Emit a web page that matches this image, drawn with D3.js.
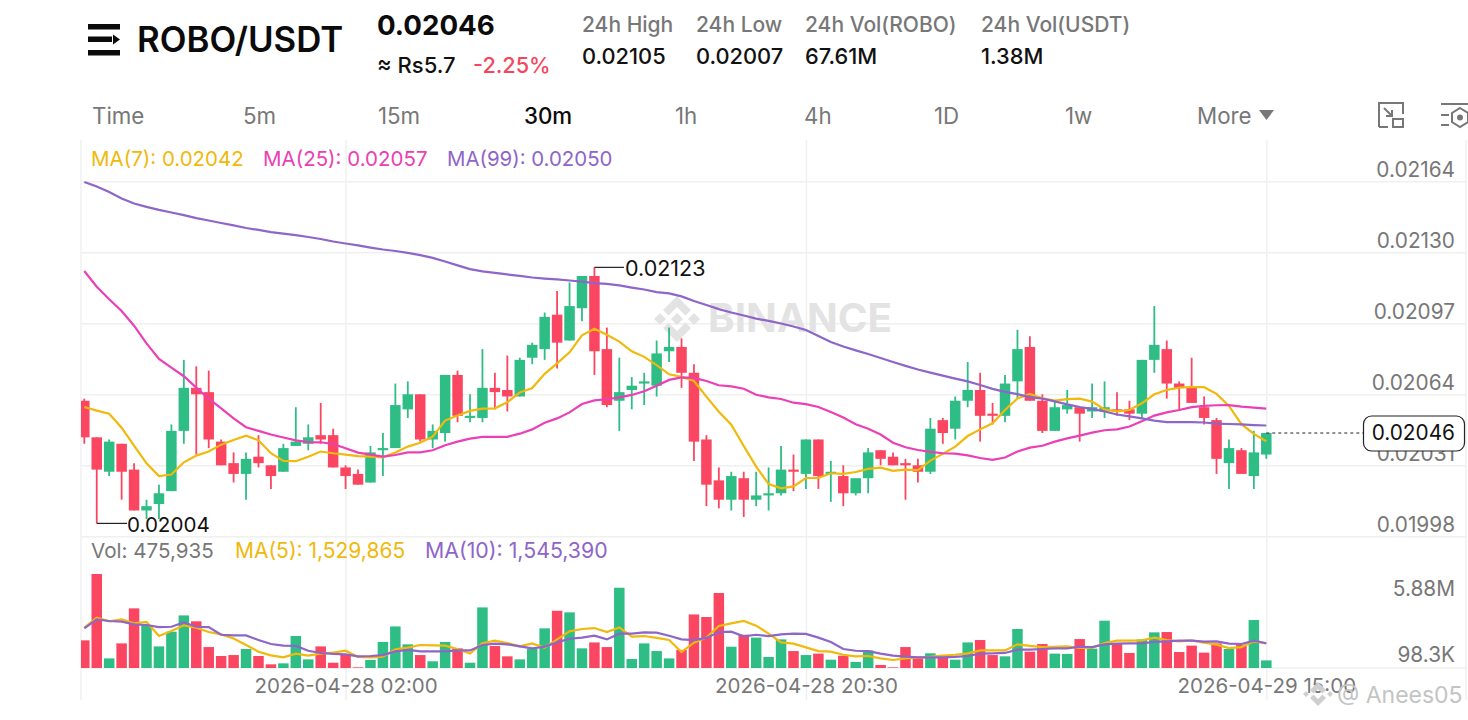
<!DOCTYPE html>
<html>
<head>
<meta charset="utf-8">
<script src="https://cdn.jsdelivr.net/npm/d3@7"></script>
<style>
body { margin: 0; background: #fff; }
text { font-family: Inter, "Noto Sans", sans-serif; }
</style>
</head>
<body>
<svg id="chart"></svg>
<script>
// prices are in units of 0.00001 USDT
var opens = [2061,2044,2028,2041,2029,2010,2013,2019,2047,2067,2065,2042,2032,2027,2035,2031,2028,2040,2041,2045,2045,2030,2027,2023,2038,2039,2057,2064,2043,2046,2073,2053,2053,2067,2066,2063,2081,2085,2101,2089,2104,2119,2085,2061,2066,2069,2068,2084,2086,2074,2043,2024,2015,2025,2015,2017,2018,2029,2027,2043,2027,2026,2018,2025,2038,2035,2032,2031,2028,2052,2048,2061,2066,2055,2054,2070,2086,2061,2047,2057,2058,2056,2056,2057,2057,2055,2080,2085,2069,2067,2058,2052,2032,2038,2026,2036];
var highs = [2062,2044,2043,2041,2032,2015,2022,2050,2080,2077,2075,2043,2037,2037,2045,2031,2041,2058,2050,2060,2048,2031,2029,2040,2046,2069,2070,2064,2050,2073,2075,2064,2085,2074,2082,2081,2088,2102,2112,2116,2119,2123,2095,2081,2072,2074,2089,2095,2090,2078,2045,2030,2028,2028,2028,2030,2040,2036,2043,2043,2033,2031,2025,2039,2038,2037,2034,2034,2053,2053,2063,2079,2074,2060,2073,2094,2091,2064,2061,2066,2058,2069,2070,2065,2061,2080,2105,2089,2070,2081,2063,2053,2043,2039,2047,2046];
var lows = [2041,2004,2026,2015,2010,2006,2006,2019,2041,2036,2039,2031,2023,2015,2030,2020,2028,2040,2038,2041,2030,2020,2022,2023,2026,2039,2053,2042,2039,2042,2051,2051,2051,2057,2056,2063,2078,2080,2076,2089,2098,2073,2058,2047,2057,2059,2063,2079,2067,2033,2012,2011,2010,2007,2012,2010,2017,2019,2020,2020,2014,2012,2017,2018,2031,2031,2015,2023,2027,2041,2043,2058,2042,2050,2051,2062,2061,2046,2047,2055,2042,2053,2053,2054,2052,2053,2074,2062,2057,2060,2050,2027,2020,2027,2020,2034];
var closes = [2044,2029,2042,2028,2010,2012,2018,2047,2067,2064,2043,2031,2027,2034,2032,2026,2039,2042,2044,2043,2030,2026,2022,2037,2039,2059,2064,2043,2047,2073,2054,2054,2067,2065,2063,2080,2087,2100,2088,2105,2119,2084,2059,2065,2068,2070,2083,2086,2074,2042,2022,2015,2026,2015,2017,2018,2029,2028,2043,2026,2028,2018,2025,2037,2034,2031,2031,2028,2048,2046,2061,2066,2054,2054,2069,2085,2061,2047,2058,2059,2055,2058,2058,2056,2055,2080,2087,2069,2067,2060,2053,2034,2039,2027,2037,2046];

var ma7 = [2058.1,2056.4,2055.0,2048.5,2040.1,2031.9,2026.0,2026.7,2032.4,2035.5,2037.4,2040.6,2042.8,2044.8,2042.6,2036.6,2033.0,2032.9,2035.0,2037.4,2036.6,2036.0,2035.3,2035.0,2034.7,2036.9,2039.7,2041.5,2044.3,2051.8,2054.1,2056.3,2057.3,2057.5,2060.3,2064.9,2066.9,2073.5,2078.4,2083.5,2091.4,2094.5,2091.7,2088.5,2084.0,2081.4,2077.6,2073.3,2072.1,2070.2,2062.9,2055.9,2049.9,2040.0,2030.4,2022.3,2020.3,2021.2,2025.1,2025.1,2027.3,2027.0,2027.9,2029.3,2029.9,2028.4,2029.0,2028.8,2033.2,2036.3,2039.7,2044.6,2047.7,2050.5,2056.7,2062.1,2064.2,2062.1,2061.1,2061.8,2062.0,2060.6,2057.0,2056.1,2056.7,2059.8,2064.0,2066.0,2067.1,2067.4,2067.3,2064.2,2058.6,2050.1,2045.6,2042.2];
var ma25 = [2121.3,2114.0,2108.2,2102.7,2095.9,2087.7,2080.4,2076.4,2072.4,2067.1,2062.0,2057.5,2052.8,2048.7,2047.0,2045.3,2043.9,2042.6,2041.8,2041.7,2040.9,2038.9,2036.9,2036.0,2035.0,2035.8,2037.0,2037.0,2038.0,2040.3,2042.0,2043.4,2044.2,2044.2,2044.2,2045.7,2047.7,2050.8,2052.8,2055.6,2059.5,2061.2,2061.7,2062.6,2063.7,2065.4,2068.0,2070.7,2071.9,2071.6,2070.2,2068.2,2067.7,2066.6,2063.8,2062.6,2061.8,2060.1,2059.4,2058.1,2055.8,2053.2,2050.1,2048.0,2045.3,2041.5,2039.4,2038.1,2037.2,2036.6,2036.4,2035.6,2034.4,2033.5,2034.6,2037.4,2039.2,2040.1,2042.0,2043.5,2044.8,2046.2,2047.3,2047.7,2049.0,2051.5,2054.1,2055.6,2056.7,2058.0,2058.6,2058.9,2059.0,2058.3,2057.8,2057.3];
var ma99 = [2162.7,2160.6,2158.0,2155.0,2152.7,2151.1,2149.7,2148.5,2147.3,2145.9,2144.8,2143.6,2142.5,2141.3,2140.4,2139.4,2138.7,2138.0,2137.1,2136.2,2135.0,2134.1,2133.2,2132.2,2131.3,2130.6,2129.7,2128.7,2127.4,2125.7,2123.9,2122.2,2121.1,2120.4,2119.7,2119.0,2118.3,2117.8,2117.4,2116.9,2116.4,2115.7,2115.3,2114.6,2113.6,2112.7,2111.5,2110.9,2109.5,2107.4,2105.5,2103.6,2102.0,2100.6,2099.2,2098.1,2096.9,2095.5,2093.9,2091.1,2088.3,2086.2,2084.4,2082.7,2080.9,2079.0,2077.2,2075.5,2074.1,2072.7,2071.3,2070.0,2068.3,2066.5,2065.1,2064.1,2062.7,2062.0,2060.7,2059.3,2058.1,2057.2,2056.0,2054.6,2053.7,2052.8,2051.8,2051.1,2051.1,2051.1,2050.9,2050.4,2050.2,2050.0,2049.7,2049.5];

// volumes in millions of ROBO
var volumes = [1.73,5.88,0.60,1.54,3.73,2.69,1.35,2.27,3.29,2.92,1.31,0.75,0.81,1.19,0.75,0.23,0.29,2.00,0.54,1.35,0.33,0.85,0.04,0.50,1.63,2.60,1.48,0.81,0.42,1.63,1.23,0.33,3.79,1.38,0.73,0.54,1.21,2.48,3.58,3.48,1.23,1.60,1.31,5.02,0.56,1.54,1.06,0.60,1.13,3.35,3.19,4.69,1.33,2.08,1.90,0.69,1.79,1.06,0.81,0.90,0.52,0.77,0.38,1.10,0.19,0.04,1.31,0.60,0.92,0.71,0.52,1.60,1.75,0.81,0.73,2.44,1.02,1.50,0.90,0.88,1.81,1.21,2.96,1.50,0.94,1.79,2.23,2.25,1.00,1.40,0.96,1.54,1.19,1.46,3.00,0.476];
var volMa5 = [2.52,3.15,2.92,3.04,2.79,2.88,2.00,2.31,2.67,2.52,2.25,2.10,1.85,1.44,1.02,0.79,0.67,0.90,0.77,0.90,0.96,1.08,0.69,0.67,0.71,1.17,1.27,1.44,1.42,1.40,1.19,0.90,1.54,1.71,1.56,1.35,1.54,1.27,1.79,2.29,2.44,2.50,2.25,2.54,1.96,2.00,1.88,1.75,1.00,1.58,1.90,2.63,2.79,2.94,2.65,2.15,1.60,1.52,1.29,1.06,1.02,0.83,0.73,0.75,0.60,0.50,0.60,0.67,0.69,0.77,0.83,0.92,1.10,1.10,1.10,1.48,1.38,1.31,1.33,1.35,1.25,1.25,1.56,1.71,1.71,1.73,1.90,1.75,1.67,1.73,1.58,1.46,1.25,1.31,1.67,1.53];
var volMa10 = [2.48,3.04,2.94,2.90,2.73,2.69,2.56,2.58,2.85,2.58,2.56,2.08,2.04,2.04,1.75,1.50,1.40,1.38,1.08,0.94,0.88,0.85,0.73,0.75,0.81,1.04,1.13,1.04,1.04,1.04,1.10,1.10,1.44,1.52,1.48,1.35,1.23,1.33,1.60,1.83,1.90,2.02,1.79,2.15,2.15,2.23,2.21,2.02,1.79,1.75,1.88,2.25,2.27,1.98,2.08,2.00,2.10,2.15,2.13,1.90,1.63,1.19,1.08,1.06,0.90,0.77,0.71,0.67,0.67,0.67,0.69,0.75,0.90,0.92,0.94,1.15,1.15,1.19,1.23,1.23,1.33,1.31,1.48,1.52,1.54,1.54,1.63,1.67,1.71,1.71,1.65,1.67,1.52,1.50,1.71,1.55];

var priceTicks = [1998, 2031, 2064, 2097, 2130, 2163];
var priceLabels = ["0.01998", "0.02031", "0.02064", "0.02097", "0.02130", "0.02164"];
var volTicks = [0.0983, 5.88];
var volLabels = ["98.3K", "5.88M"];
var timeTicks = [21, 58, 95];
var timeLabels = ["2026-04-28 02:00", "2026-04-28 20:30", "2026-04-29 15:00"];
var intervals = ["Time", "5m", "15m", "30m", "1h", "4h", "1D", "1w", "More"];
var intervalX = [92, 243, 378, 524, 675, 804, 934, 1065, 1197];
var statNames = ["24h High", "24h Low", "24h Vol(ROBO)", "24h Vol(USDT)"];
var statValues = ["0.02105", "0.02007", "67.61M", "1.38M"];
var statX = [582, 696, 805, 981];
var lastPrice = 2046, highMark = 2123, lowMark = 2004;

var green = "#2ebd85", red = "#fb4661", yellow = "#f0b90b", pink = "#eb40b5", purple = "#8e65c9";
var gray = "#777", grid = "#f0f0f0";
var width = 1468, height = 720;

var svg = d3.select("#chart").attr("width", width).attr("height", height)
    .style("display", "block").style("background", "#fff");

svg.append("defs").append("clipPath").attr("id", "plot")
    .append("rect").attr("x", 81).attr("y", 140).attr("width", 1191).attr("height", 560);

var x = d3.scalePoint().domain(d3.range(opens.length)).range([84.3, 1266.3]);
var yPrice = d3.scaleLinear().domain([1998, 2163]).range([536.3, 181.3]);
var yVol = d3.scaleLinear().domain([0, 5.88]).range([668, 574]);
var bodyWidth = 10.5;

// Grid and axes
var priceAxis = d3.axisRight(yPrice).tickValues(priceTicks)
    .tickFormat(function (d, i) { return priceLabels[i]; })
    .tickSize(width - 81 - 2);
svg.append("g").attr("class", "price-axis").attr("transform", "translate(81,0)").call(priceAxis)
    .call(function (g) { g.select(".domain").remove(); })
    .call(function (g) { g.selectAll("line").attr("stroke", grid).attr("stroke-width", 1.5); })
    .call(function (g) {
        g.selectAll("text").attr("x", 1374).attr("dy", "-0.22em").attr("text-anchor", "end")
            .attr("font-size", 20.8).attr("fill", gray).style("font-family", "Inter");
    });

var timeAxis = d3.axisBottom(x).tickValues(timeTicks)
    .tickFormat(function (d, i) { return timeLabels[i]; })
    .tickSize(560);
svg.append("g").attr("class", "time-axis").attr("transform", "translate(0,140)").call(timeAxis)
    .call(function (g) { g.select(".domain").remove(); })
    .call(function (g) { g.selectAll("line").attr("stroke", grid).attr("stroke-width", 1.5); })
    .call(function (g) {
        g.selectAll("text").attr("y", 553).attr("dy", "0").attr("font-size", 20.5)
            .attr("fill", gray).style("font-family", "Inter");
    });

svg.append("line").attr("x1", 81).attr("x2", 81).attr("y1", 140).attr("y2", 700)
    .attr("stroke", grid).attr("stroke-width", 1.5);
svg.append("line").attr("x1", 81).attr("x2", 1466).attr("y1", yVol(0)).attr("y2", yVol(0))
    .attr("stroke", grid).attr("stroke-width", 1.5);
svg.append("line").attr("x1", 1466).attr("x2", 1466).attr("y1", 140).attr("y2", 700)
    .attr("stroke", grid).attr("stroke-width", 1.5);

// BINANCE watermark
var mark = svg.append("g").attr("transform", "translate(677,319)").attr("fill", "#e3e3e3");
mark.append("path").attr("d", "M0,-23 L14,-9 L8.5,-3.5 L0,-12 L-8.5,-3.5 L-14,-9 Z");
mark.append("path").attr("d", "M0,23 L14,9 L8.5,3.5 L0,12 L-8.5,3.5 L-14,9 Z");
mark.append("path").attr("d", "M0,-6 L6,0 L0,6 L-6,0 Z");
mark.append("path").attr("d", "M-17,-6 L-11,0 L-17,6 L-23,0 Z");
mark.append("path").attr("d", "M17,-6 L23,0 L17,6 L11,0 Z");
svg.append("text").attr("x", 708).attr("y", 332).text("BINANCE")
    .attr("font-size", 39).attr("font-weight", 700).attr("fill", "#e3e3e3")
    .attr("textLength", 184).attr("lengthAdjust", "spacingAndGlyphs");

// Candles
var plot = svg.append("g").attr("clip-path", "url(#plot)");
var candles = plot.selectAll("g.candle").data(opens).enter().append("g").attr("class", "candle");
function colour(i) { return closes[i] >= opens[i] ? green : red; }

candles.append("line")
    .attr("x1", function (d, i) { return x(i); })
    .attr("x2", function (d, i) { return x(i); })
    .attr("y1", function (d, i) { return yPrice(highs[i]); })
    .attr("y2", function (d, i) { return yPrice(lows[i]); })
    .attr("stroke-width", 1.8)
    .attr("stroke", function (d, i) { return colour(i); });

candles.append("rect")
    .attr("x", function (d, i) { return x(i) - bodyWidth / 2; })
    .attr("width", bodyWidth)
    .attr("y", function (d, i) { return yPrice(Math.max(opens[i], closes[i])); })
    .attr("height", function (d, i) { return Math.max(1.5, Math.abs(yPrice(opens[i]) - yPrice(closes[i]))); })
    .attr("fill", function (d, i) { return colour(i); });

// Moving averages
var priceLine = d3.line().x(function (d, i) { return x(i); }).y(function (d) { return yPrice(d); });
[[ma7, yellow], [ma25, pink], [ma99, purple]].forEach(function (s) {
    plot.append("path").datum(s[0]).attr("d", priceLine)
        .attr("fill", "none").attr("stroke", s[1]).attr("stroke-width", 2.2);
});

// High and low labels
svg.append("path").attr("fill", "none").attr("stroke", "#222").attr("stroke-width", 1.2)
    .attr("d", "M" + x(41) + "," + yPrice(highMark) + "H624");
svg.append("text").attr("x", 625).attr("y", yPrice(highMark)).attr("dy", "0.42em")
    .attr("font-size", 21.5).attr("fill", "#111").text("0.02123");
svg.append("path").attr("fill", "none").attr("stroke", "#222").attr("stroke-width", 1.2)
    .attr("d", "M" + x(1) + "," + yPrice(lowMark) + "H127");
svg.append("text").attr("x", 127).attr("y", yPrice(lowMark)).attr("dy", "0.42em")
    .attr("font-size", 20.6).attr("fill", "#111").text("0.02004");

// Volume pane
var vols = plot.append("g");
vols.selectAll("rect").data(volumes).enter().append("rect")
    .attr("x", function (d, i) { return x(i) - bodyWidth / 2; })
    .attr("width", bodyWidth)
    .attr("y", function (d) { return yVol(d); })
    .attr("height", function (d) { return yVol(0) - yVol(d); })
    .attr("fill", function (d, i) { return colour(i); });

var volLine = d3.line().x(function (d, i) { return x(i); }).y(function (d) { return yVol(d); });
[[volMa5, yellow], [volMa10, purple]].forEach(function (s) {
    plot.append("path").datum(s[0]).attr("d", volLine)
        .attr("fill", "none").attr("stroke", s[1]).attr("stroke-width", 2.2);
});

svg.selectAll("text.vol-tick").data(volTicks).enter().append("text").attr("class", "vol-tick")
    .attr("x", 1455).attr("text-anchor", "end").attr("font-size", 20.8).attr("fill", gray)
    .attr("y", function (d, i) { return yVol(d) + (i === 0 ? -4 : 22); })
    .text(function (d, i) { return volLabels[i]; });

// Last price marker
svg.append("line").attr("x1", x(95)).attr("x2", 1363)
    .attr("y1", yPrice(lastPrice)).attr("y2", yPrice(lastPrice))
    .attr("stroke", "#222").attr("stroke-width", 1).attr("stroke-dasharray", "3,3");
svg.append("rect").attr("x", 1363.5).attr("y", 416).attr("width", 101).attr("height", 35).attr("rx", 8)
    .attr("fill", "#fff").attr("stroke", "#222").attr("stroke-width", 1.2);
svg.append("text").attr("x", 1455).attr("y", yPrice(lastPrice)).attr("dy", "0.35em")
    .attr("text-anchor", "end").attr("font-size", 20.8).attr("fill", "#111").text("0.02046");

// Legends
function label(tx, ty, str, fill, size, weight, anchor) {
    return svg.append("text").attr("x", tx).attr("y", ty).text(str).attr("fill", fill)
        .attr("font-size", size).attr("font-weight", weight || 400)
        .attr("text-anchor", anchor || "start");
}
label(91, 166, "MA(7): 0.02042", yellow, 20.5);
label(263, 166, "MA(25): 0.02057", pink, 20.5);
label(447, 166, "MA(99): 0.02050", purple, 20.4);
label(91, 558, "Vol: 475,935", gray, 20.6);
label(235, 558, "MA(5): 1,529,865", yellow, 21);
label(425, 558, "MA(10): 1,545,390", purple, 21.3);

// Header
var logo = svg.append("g").attr("fill", "#0b0b0b");
logo.append("rect").attr("x", 88).attr("y", 24).attr("width", 32).attr("height", 5.5);
logo.append("rect").attr("x", 88).attr("y", 36.5).attr("width", 24).attr("height", 5.5);
logo.append("rect").attr("x", 88).attr("y", 50).attr("width", 32).attr("height", 5.5);
logo.append("path").attr("d", "M113,34.5 L120,39.5 L113,44.5 Z");

label(137, 52, "ROBO/USDT", "#0b0b0b", 34.8, 600);
label(377, 35, "0.02046", "#0b0b0b", 27.7, 700);
label(377, 73, "≈ Rs5.7", "#111", 22, 500);
label(473, 73, "-2.25%", "#f6465d", 21.7, 500);

statNames.forEach(function (s, i) {
    label(statX[i], 32, s, gray, 21, 500);
    label(statX[i], 64, statValues[i], "#111", 21.8, 500);
});

intervals.forEach(function (s, i) {
    label(intervalX[i], 124, s, s === "30m" ? "#0b0b0b" : gray, 22.3, s === "30m" ? 500 : 400);
});
svg.append("path").attr("d", "M1259,110 H1274 L1266.5,120 Z").attr("fill", gray);

// Toolbar icons
var icons = svg.append("g").attr("fill", "none").attr("stroke", gray).attr("stroke-width", 2);
icons.append("path").attr("d", "M1379,127 V103 H1403 V114 M1379,127 H1388 M1384,108 L1392,116 M1392,110 V116 H1386");
icons.append("rect").attr("x", 1393).attr("y", 119).attr("width", 10).attr("height", 8);
icons.append("path").attr("d", "M1441,104 H1468 M1441,115 H1449 M1441,125 H1449");
icons.append("path").attr("d", "M1460,108 L1468,113 V122 L1460,127 L1452,122 V113 Z");
icons.append("circle").attr("cx", 1460).attr("cy", 117.5).attr("r", 2).attr("fill", gray);

// Bottom right watermark
var wm = svg.append("g").attr("transform", "translate(1318,694)").attr("fill", "#cfcfcf");
wm.append("path").attr("d", "M0,-12 L8,-4 L4.5,-0.5 L0,-5 L-4.5,-0.5 L-8,-4 Z");
wm.append("path").attr("d", "M0,12 L8,4 L4.5,0.5 L0,5 L-4.5,0.5 L-8,4 Z");
wm.append("path").attr("d", "M-12,-3 L-9,0 L-12,3 L-15,0 Z M12,-3 L15,0 L12,3 L9,0 Z");
label(1337, 703, "@ Anees05", "#c4c4c4", 23);
</script>
</body>
</html>
